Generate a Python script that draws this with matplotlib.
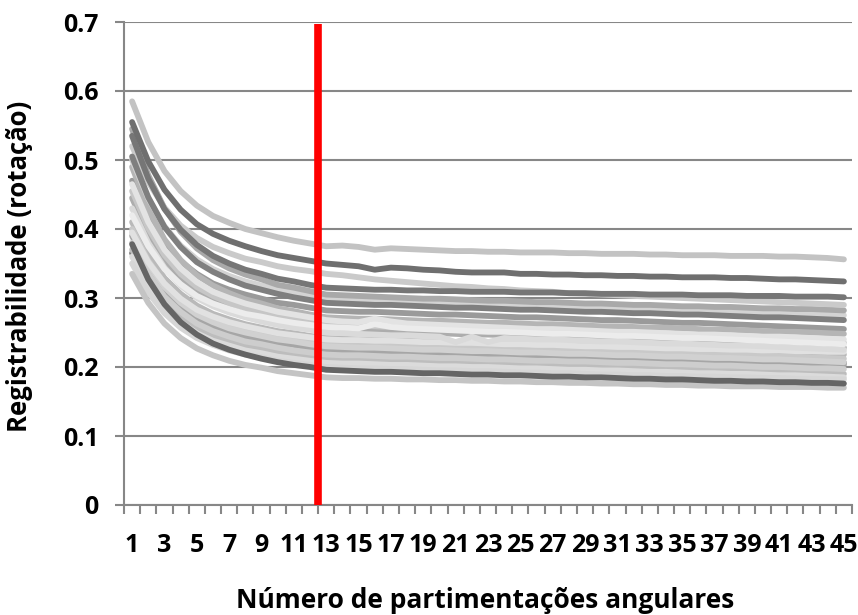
import numpy as np
import matplotlib
matplotlib.use("Agg")
import matplotlib.pyplot as plt
from matplotlib.ticker import FixedLocator

# categories (número de partimentações angulares)
categories = list(range(1, 46))
tick_labels = [str(c) for c in range(1, 46, 2)]
red_line_at = 12.5
red_line_top = 0.697

# series values (registrabilidade x 1000)
s01 = [585,526,484,455,434,419,409,400,394,388,383,379,375,
       376,374,370,372,371,370,369,368,368,367,367,366,366,366,365,365,
       364,364,364,363,363,362,362,362,361,361,361,360,360,359,358,356]
s02 = [555,498,457,428,407,393,383,375,368,362,358,354,350,
       348,346,341,344,343,341,340,338,337,337,337,335,335,334,334,333,
       333,332,332,331,331,330,330,330,329,329,328,327,327,326,325,324]
s03 = [535,473,429,399,377,361,350,341,335,328,324,319,315,
       314,313,312,312,311,311,310,310,309,309,309,308,308,308,307,307,
       306,306,306,305,305,305,304,304,304,303,303,303,302,302,302,301]
s04 = [520,468,431,405,387,374,365,357,352,346,342,339,335,
       333,330,327,325,323,321,319,317,316,314,313,311,310,309,307,306,
       305,304,303,302,301,300,299,298,297,296,295,294,293,292,291,290]
s05 = [545,478,430,396,372,355,343,334,327,319,315,310,305,
       304,303,302,301,300,299,299,298,297,296,296,295,294,294,293,292,
       292,291,290,290,289,288,288,287,287,286,285,285,284,284,283,282]
s06 = [505,446,403,374,352,338,327,318,312,306,301,297,293,
       292,291,290,290,289,288,287,286,286,285,284,283,283,282,281,280,
       280,279,278,278,277,276,276,275,274,273,272,272,271,270,269,268]
s07 = [470,417,380,353,335,321,312,305,299,293,290,286,282,
       281,280,280,279,278,277,276,276,275,274,273,272,272,271,270,269,
       268,268,267,266,265,264,264,263,262,261,260,259,258,257,256,255]
s08 = [500,444,404,376,356,342,332,324,318,312,308,304,300,
       299,298,297,296,295,294,293,292,292,291,290,289,289,288,287,287,
       286,285,285,284,283,283,282,281,281,280,279,279,278,277,276,275]
s09 = [490,429,385,355,333,318,307,298,292,285,281,276,272,
       271,270,270,269,268,267,267,266,265,264,264,263,262,262,261,260,
       259,259,258,257,257,256,255,254,254,253,252,251,251,250,249,248]
s10 = [465,410,370,343,323,309,300,292,286,280,276,272,268,
       266,265,270,266,263,262,261,260,259,258,257,256,255,255,254,253,
       252,251,251,250,249,248,247,247,246,245,244,244,243,242,241,240]
s11 = [455,401,362,335,316,303,293,285,279,274,270,266,262,
       261,260,259,258,257,257,256,255,254,254,253,252,251,251,250,249,
       248,248,247,246,245,245,244,243,242,241,241,240,239,238,236,235]
s12 = [445,392,354,327,308,295,285,278,272,266,263,259,255,
       254,253,252,251,250,250,249,248,247,247,246,245,244,244,243,242,
       241,241,240,239,238,238,237,236,235,234,234,233,232,231,229,228]
s13 = [430,380,344,318,300,288,279,272,266,261,257,254,250,
       249,248,247,246,246,245,244,236,244,236,242,241,240,240,239,238,
       237,237,236,235,234,234,233,232,231,231,230,229,228,227,226,225]
s14 = [420,375,342,320,303,292,284,277,273,268,264,261,258,
       257,256,262,258,256,255,254,253,252,251,251,250,249,248,248,247,
       246,245,245,244,243,242,242,241,240,239,238,237,236,235,234,233]
s15 = [410,363,329,306,289,277,269,262,257,252,249,245,242,
       241,240,239,239,238,237,236,236,235,234,233,233,232,231,231,230,
       229,228,228,227,226,226,225,224,223,223,222,221,221,220,219,218]
s16 = [400,354,321,298,282,270,262,256,251,246,243,239,236,
       235,234,233,233,232,231,230,230,229,228,228,227,226,225,225,224,
       223,223,222,221,220,220,219,218,217,217,216,215,215,214,213,212]
s17 = [395,349,316,293,276,265,256,250,245,240,237,233,230,
       229,228,228,227,226,225,225,224,223,223,222,221,221,220,219,219,
       218,217,217,216,215,215,214,213,213,212,211,211,210,209,208,207]
s18 = [390,344,311,288,271,260,251,245,240,235,232,228,225,
       224,223,223,222,221,221,220,219,219,218,217,217,216,215,215,214,
       213,213,212,211,211,210,209,209,208,207,207,206,205,205,204,203]
s19 = [380,335,302,280,263,252,244,237,233,228,224,221,218,
       217,217,216,215,215,214,213,213,212,211,211,210,209,209,208,208,
       207,206,206,205,204,204,203,202,202,201,200,200,199,198,198,197]
s20 = [370,326,294,272,256,245,237,231,226,221,218,215,212,
       211,211,210,209,209,208,207,207,206,205,205,204,203,203,202,201,
       201,200,199,199,198,197,197,196,195,195,194,193,193,192,191,190]
s21 = [360,317,286,265,249,238,231,224,220,215,212,209,206,
       205,205,204,203,203,202,201,201,200,200,199,198,198,197,196,196,
       195,195,194,193,193,192,191,191,190,190,189,188,188,187,186,185]
s22 = [365,327,299,280,266,257,250,244,240,236,233,231,228,
       227,226,226,225,224,224,223,222,222,221,220,220,219,218,218,217,
       216,216,215,214,214,213,212,212,211,210,210,209,208,208,207,206]
s23 = [378,327,291,265,247,234,225,218,212,207,203,200,196,
       195,194,193,193,192,191,191,190,189,189,188,188,187,186,186,185,
       185,184,183,183,182,182,181,180,180,179,179,178,178,177,177,176]
s24 = [335,293,263,242,227,217,209,203,199,194,191,188,185,
       184,184,183,183,182,182,181,181,180,180,179,179,178,178,177,177,
       176,176,175,175,174,174,173,173,172,172,172,171,171,171,170,170]
s25 = [350,308,278,257,242,232,224,218,214,209,206,203,200,
       199,198,198,197,197,196,195,195,194,194,193,192,192,191,191,190,
       189,189,188,188,187,187,186,186,185,185,184,184,183,183,182,182]
s26 = [395,352,321,299,283,273,265,259,254,249,246,243,240,
       239,239,238,238,237,236,236,235,235,234,233,233,232,232,231,230,
       230,229,229,228,227,227,226,226,225,225,224,224,223,223,222,222]

# drawing order (first = bottom) and colours
series = [s22, s07, s09, s12, s18, s15, s20, s16, s11, s19, s17, s21, s25,
          s26, s13, s10, s14, s08, s05, s04, s06, s24, s23, s03, s02, s01]
colors = ["#6c6c6c", "#9a9a9a", "#b5b5b5", "#adadad", "#a6a6a6", "#b9b9b9",
          "#bdbdbd", "#c9c9c9", "#c6c6c6", "#cdcdcd", "#d1d1d1", "#dbdbdb",
          "#d6d6d6", "#e1e1e1", "#dadada", "#e3e3e3", "#ececec", "#d3d3d3",
          "#a9a9a9", "#cacaca", "#7f7f7f", "#c4c4c4", "#656565", "#767676",
          "#6f6f6f", "#c3c3c3"]

plt.rcParams['font.family'] = ['Open Sans', 'DejaVu Sans']

fig = plt.figure(figsize=(8.58, 6.15), dpi=100)
ax = fig.add_axes([124/858, 1 - 505/615, (852 - 124)/858, (505 - 22)/615])

x = np.array(categories)
for s, c in zip(series, colors):
    ax.plot(x, np.array(s) / 1000.0, color=c, lw=4.2,
            solid_capstyle='round', solid_joinstyle='round', zorder=3)

ax.plot([red_line_at, red_line_at], [0, red_line_top], color="#ff0000",
        lw=5.5, zorder=5, solid_capstyle='butt')

ax.set_xlim(0.5, 45.5)
ax.set_ylim(0, 0.7)

grid_c = "#878787"
ax.set_yticks([0, 0.1, 0.2, 0.3, 0.4, 0.5, 0.6, 0.7])
ax.set_yticklabels(["0", "0.1", "0.2", "0.3", "0.4", "0.5", "0.6", "0.7"])
ax.grid(axis='y', color=grid_c, lw=1.5, zorder=1)
ax.set_axisbelow(True)

ax.set_xticks(list(range(1, 46, 2)))
ax.set_xticklabels(tick_labels)
ax.xaxis.set_minor_locator(FixedLocator(np.arange(0.5, 46, 1.0)))

for side in ['top', 'right']:
    ax.spines[side].set_visible(False)
for side in ['left', 'bottom']:
    ax.spines[side].set_color(grid_c)
    ax.spines[side].set_linewidth(1.5)

ax.tick_params(axis='y', which='major', length=6.5, width=1.5, color=grid_c,
               labelsize=18, pad=12)
ax.tick_params(axis='x', which='major', length=0, labelsize=18, pad=20)
ax.tick_params(axis='x', which='minor', length=6.5, width=1.5, color=grid_c)
for lab in ax.get_xticklabels() + ax.get_yticklabels():
    lab.set_fontweight('bold')

fig.text(485/858, 1 - 601/615, "Número de partimentações angulares",
         ha='center', va='center', fontsize=19, fontweight='bold')
fig.text(20/858, 1 - 266/615, "Registrabilidade (rotação)",
         ha='center', va='center', rotation=90, fontsize=18.5, fontweight='bold')

fig.savefig("out.png", dpi=100)
